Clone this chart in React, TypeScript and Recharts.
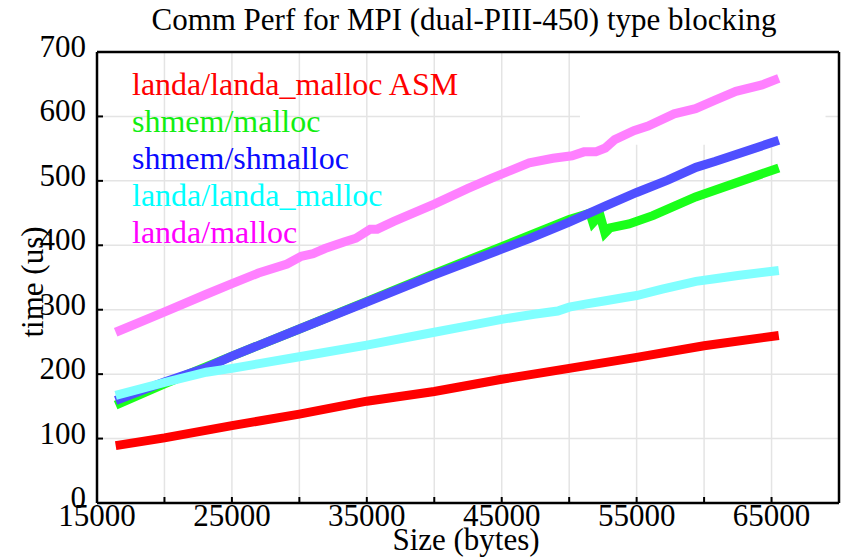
import { LineChart, Line, XAxis, YAxis, CartesianGrid, ReferenceArea } from 'recharts'

// message size (bytes) vs time (us), one list per series
const asmX = [16384, 20000, 25000, 30000, 35000, 40000, 45000, 50000, 55000, 60000, 65536]
const asmY = [89, 101, 120, 138, 158, 173, 192, 209, 226, 244, 260]

const shmemMallocX = [16384, 20000, 25000, 30000, 35000, 40000, 45000, 50000, 51541, 51764, 52282, 52653, 53024, 54437, 56197, 59366, 65536]
const shmemMallocY = [152, 185, 228, 270, 313, 356, 398, 440, 450, 435, 447, 419, 427, 433, 446, 475, 520]

const shmallocX = [16384, 20000, 23100, 25000, 30000, 35000, 40000, 45000, 47000, 50000, 52700, 55000, 57300, 59400, 60800, 65536]
const shmallocY = [159, 188, 210, 228, 270, 312, 354, 394, 410, 436, 461, 482, 501, 521, 530, 563]

const landaX = [16384, 20000, 23100, 25000, 30000, 35000, 40000, 42500, 45000, 47400, 49150, 50000, 51300, 52700, 54100, 55000, 56900, 59400, 60800, 62500, 65536]
const landaY = [167, 187, 203, 209, 227, 245, 265, 275, 285, 293, 298, 304, 309, 314, 319, 322, 332, 344, 348, 353, 361]

const mallocX = [16384, 19930, 23100, 24965, 26970, 29085, 30140, 31020, 31900, 33310, 34190, 35250, 35775, 37000, 40000, 42465, 44225, 45634, 47042, 48803, 50211, 51092, 51972, 52676, 53380, 54789, 55845, 57782, 59366, 60775, 62359, 64296, 65536]
const mallocY = [265, 296, 324, 340, 357, 371, 383, 387, 395, 405, 411, 425, 425, 437, 464, 488, 504, 516, 528, 535, 539, 545, 545, 551, 564, 578, 585, 604, 612, 625, 639, 649, 659]

const xTicks = [15000, 20000, 25000, 30000, 35000, 40000, 45000, 50000, 55000, 60000, 65000, 70000]
const yTicks = [0, 100, 200, 300, 400, 500, 600, 700]

const toPoints = (xs: number[], ys: number[]) => xs.map((x, i) => ({ x, y: ys[i] }))

const series = [
  { name: 'landa/landa_malloc ASM', line: '#ff0000', text: '#ff0000', data: toPoints(asmX, asmY) },
  { name: 'shmem/malloc', line: '#1aff1a', text: '#11ee11', data: toPoints(shmemMallocX, shmemMallocY) },
  { name: 'shmem/shmalloc', line: '#4f4fff', text: '#0a0aff', data: toPoints(shmallocX, shmallocY) },
  { name: 'landa/landa_malloc', line: '#80ffff', text: '#00ffff', data: toPoints(landaX, landaY) },
  { name: 'landa/malloc', line: '#ff80ff', text: '#ff00ff', data: toPoints(mallocX, mallocY) },
]

const FONT = '"Liberation Serif", "Times New Roman", serif'
const FS = 31

const BottomTick = (props: any) => {
  const { x, y, payload } = props
  const showLabel = (payload.value - 15000) % 10000 === 0
  return (
    <g>
      <line x1={x} y1={y} x2={x} y2={y - 6} stroke="#000" strokeWidth={2} />
      {showLabel && (
        <text x={x} y={y + 23} textAnchor="middle" fontFamily={FONT} fontSize={FS} fill="#000">
          {payload.value}
        </text>
      )}
    </g>
  )
}

const TopTick = (props: any) => {
  const { x, y } = props
  return <line x1={x} y1={y} x2={x} y2={y + 6} stroke="#000" strokeWidth={2} />
}

const LeftTick = (props: any) => {
  const { x, y, payload } = props
  return (
    <g>
      <line x1={x} y1={y} x2={x + 6} y2={y} stroke="#000" strokeWidth={2} />
      <text x={x - 11} y={y + 5} textAnchor="end" fontFamily={FONT} fontSize={FS} fill="#000">
        {payload.value}
      </text>
    </g>
  )
}

const RightTick = (props: any) => {
  const { x, y } = props
  return <line x1={x} y1={y} x2={x - 6} y2={y} stroke="#000" strokeWidth={2} />
}

const axisLine = { stroke: '#000', strokeWidth: 2.5 }

export default function App() {
  return (
    <div style={{ position: 'absolute', left: 0, top: 0, width: 842, height: 559, background: '#fff' }}>
      <LineChart width={842} height={559} margin={{ top: 51, right: 2, bottom: 55, left: 96 }}>
        <CartesianGrid stroke="#e4e4e4" strokeWidth={1.5} />
        <ReferenceArea x1={50800} x2={69000} y1={556} y2={700} fill="#fff" fillOpacity={1} stroke="none" />
        <XAxis
          dataKey="x"
          type="number"
          domain={[15000, 70000]}
          ticks={xTicks}
          height={1}
          tickSize={0}
          tickMargin={0}
          tickLine={false}
          tick={BottomTick}
          axisLine={axisLine}
          interval={0}
        />
        <XAxis
          xAxisId="top"
          orientation="top"
          dataKey="x"
          type="number"
          domain={[15000, 70000]}
          ticks={xTicks}
          height={1}
          tickSize={0}
          tickMargin={0}
          tickLine={false}
          tick={TopTick}
          axisLine={axisLine}
          interval={0}
        />
        <YAxis
          type="number"
          domain={[0, 700]}
          ticks={yTicks}
          width={1}
          tickSize={0}
          tickMargin={0}
          tickLine={false}
          tick={LeftTick}
          axisLine={axisLine}
          interval={0}
        />
        <YAxis
          yAxisId="right"
          orientation="right"
          type="number"
          domain={[0, 700]}
          ticks={yTicks}
          width={1}
          tickSize={0}
          tickMargin={0}
          tickLine={false}
          tick={RightTick}
          axisLine={axisLine}
          interval={0}
        />
        {series.map((s) => (
          <Line
            key={s.name}
            data={s.data}
            dataKey="y"
            name={s.name}
            type="linear"
            stroke={s.line}
            strokeWidth={9}
            dot={false}
            activeDot={false}
            isAnimationActive={false}
          />
        ))}
      </LineChart>
      <svg
        width={842}
        height={559}
        style={{ position: 'absolute', left: 0, top: 0, pointerEvents: 'none' }}
        fontFamily={FONT}
        fontSize={FS}
      >
        <text x={464} y={30} textAnchor="middle" fill="#000">
          Comm Perf for MPI (dual-PIII-450) type blocking
        </text>
        <text x={466} y={550} textAnchor="middle" fill="#000">
          Size (bytes)
        </text>
        <text x={43} y={282} textAnchor="middle" fill="#000" transform="rotate(-90 43 282)">
          time (us)
        </text>
        {series.map((s, i) => (
          <text key={s.name} x={132} y={95 + i * 37} fill={s.text} fontSize={32}>
            {s.name}
          </text>
        ))}
      </svg>
    </div>
  )
}
